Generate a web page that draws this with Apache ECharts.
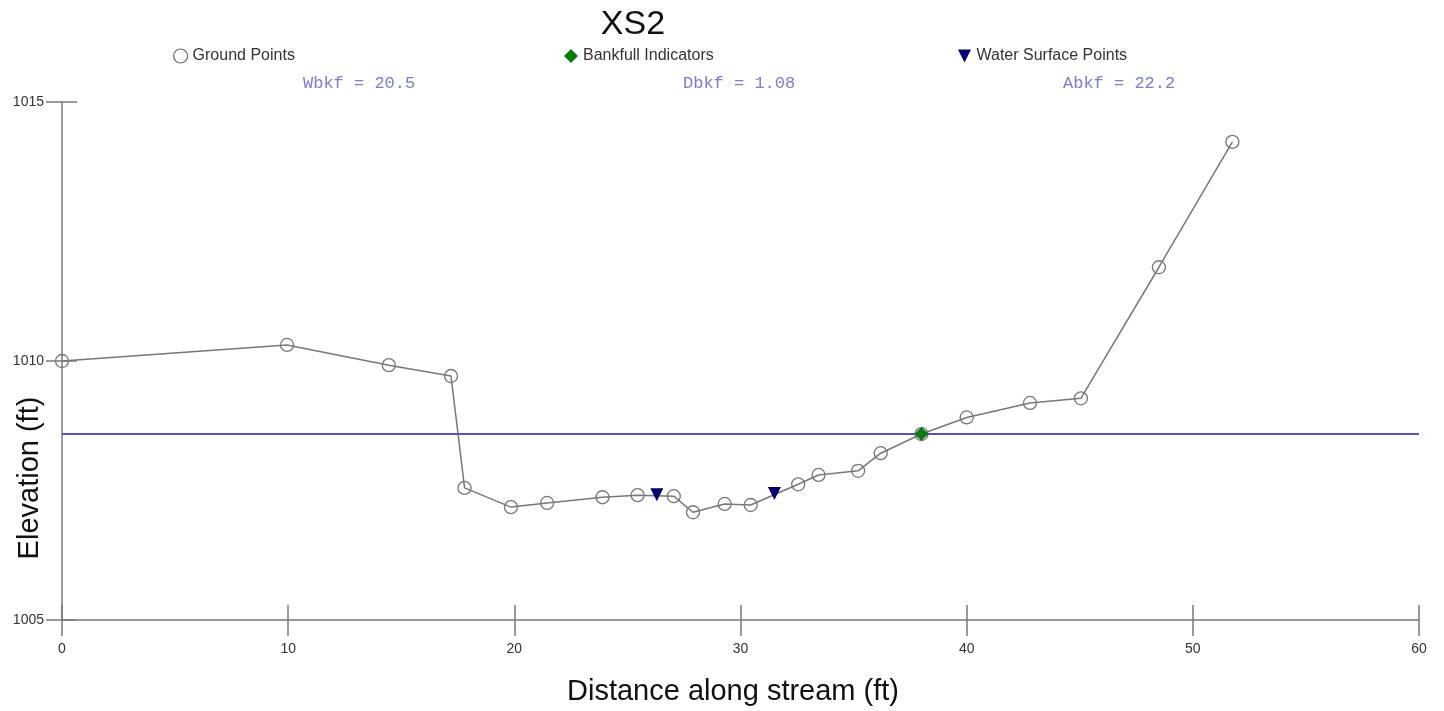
<!DOCTYPE html>
<html>
<head>
<meta charset="utf-8">
<style>
  html, body { margin: 0; padding: 0; background: #fff; }
  #chart { width: 1444px; height: 711px; }
</style>
<script src="https://cdn.jsdelivr.net/npm/echarts@6/dist/echarts.min.js"></script>
</head>
<body>
<div id="chart"></div>
<script>
// Ground survey points: distance (ft), elevation (ft)
const groundX = [0, 9.95, 14.45, 17.2, 17.8, 19.85, 21.45, 23.9, 25.45, 27.05, 27.9, 29.3, 30.45, 32.55, 33.45, 35.2, 36.2, 38.0, 40.0, 42.8, 45.05, 48.5, 51.75];
const groundY = [1010.0, 1010.31, 1009.92, 1009.71, 1007.55, 1007.18, 1007.26, 1007.37, 1007.41, 1007.39, 1007.08, 1007.24, 1007.22, 1007.62, 1007.8, 1007.88, 1008.22, 1008.59, 1008.91, 1009.19, 1009.28, 1011.81, 1014.23];
// Bankfull indicator
const bankfullX = [38.0];
const bankfullY = [1008.59];
// Water surface points
const waterX = [26.3, 31.5];
const waterY = [1007.42, 1007.44];
// Bankfull elevation line
const bankfullElevation = 1008.59;
// Axis ticks
const xTicks = [0, 10, 20, 30, 40, 50, 60];
const yTicks = [1005, 1010, 1015];
// Summary text
const statLabels = ['Wbkf = 20.5', 'Dbkf = 1.08', 'Abkf = 22.2'];
const titleText = 'XS2';

const zip = (a, b) => a.map((v, i) => [v, b[i]]);

const chart = echarts.init(document.getElementById('chart'), null, { renderer: 'canvas' });
const axisColor = '#7a7a7a';
const sans = '"Liberation Sans", Arial, sans-serif';
const labelFont = { color: '#333', fontFamily: sans, fontSize: 14 };

const xBase = { type: 'value', min: xTicks[0], max: xTicks[xTicks.length - 1], interval: 10, splitLine: { show: false } };
const yBase = { type: 'value', min: yTicks[0], max: yTicks[yTicks.length - 1], interval: 5, splitLine: { show: false } };

const legendText = { fontFamily: sans, fontSize: 16, color: '#333' };

const option = {
  backgroundColor: '#fff',
  animation: false,
  legend: [
    { left: 168, top: 43, itemWidth: 14, itemHeight: 14,
      textStyle: legendText,
      data: [{ name: 'Ground Points', icon: 'circle', itemStyle: { color: '#fff', borderColor: '#666', borderWidth: 1.2 } }] },
    { left: 559, top: 43, itemWidth: 14, itemHeight: 14,
      textStyle: legendText,
      data: [{ name: 'Bankfull Indicators', icon: 'diamond' }] },
    { left: 953, top: 43, itemWidth: 14, itemHeight: 13,
      textStyle: legendText,
      data: [{ name: 'Water Surface Points', icon: 'path://M0,0 L10,0 L5,10 Z' }] }
  ],
  grid: { left: 62, right: 25, top: 102, bottom: 91, containLabel: false },
  xAxis: [
    Object.assign({}, xBase, {
      axisLine: { show: true, onZero: false, lineStyle: { color: axisColor, width: 1.5 } },
      axisTick: { show: true, inside: false, length: 16, lineStyle: { color: axisColor, width: 1.5 } },
      axisLabel: Object.assign({ margin: 22, showMinLabel: true, showMaxLabel: true }, labelFont)
    }),
    Object.assign({}, xBase, {
      position: 'bottom',
      axisLine: { show: false },
      axisTick: { show: true, inside: true, length: 15, lineStyle: { color: axisColor, width: 1.5 } },
      axisLabel: { show: false }
    })
  ],
  yAxis: [
    Object.assign({}, yBase, {
      axisLine: { show: true, onZero: false, lineStyle: { color: axisColor, width: 1.5 } },
      axisTick: { show: true, inside: false, length: 16, lineStyle: { color: axisColor, width: 1.5 } },
      axisLabel: Object.assign({ margin: 18, formatter: v => String(v) }, labelFont)
    }),
    Object.assign({}, yBase, {
      position: 'left',
      axisLine: { show: false },
      axisTick: { show: true, inside: true, length: 15, lineStyle: { color: axisColor, width: 1.5 } },
      axisLabel: { show: false }
    })
  ],
  series: [
    {
      name: 'Ground Points', type: 'line', data: zip(groundX, groundY),
      symbol: 'circle', symbolSize: 13, showAllSymbol: true,
      lineStyle: { color: '#777', width: 1.5 },
      itemStyle: { color: 'transparent', borderColor: '#777', borderWidth: 1.3 },
      emphasis: { disabled: true },
      z: 3,
      markLine: {
        silent: true, symbol: 'none', label: { show: false },
        lineStyle: { color: '#5454c0', width: 2, type: 'solid' },
        data: [{ yAxis: bankfullElevation }]
      }
    },
    {
      name: 'Bankfull Indicators', type: 'scatter', data: zip(bankfullX, bankfullY),
      symbol: 'diamond', symbolSize: 14,
      itemStyle: { color: '#0a7a10', opacity: 1 }, emphasis: { disabled: true }, z: 5
    },
    {
      name: 'Water Surface Points', type: 'scatter', data: zip(waterX, waterY),
      symbol: 'triangle', symbolRotate: 180, symbolSize: 13,
      itemStyle: { color: '#00006e', opacity: 1 }, emphasis: { disabled: true }, z: 5
    }
  ],
  graphic: [
    { type: 'text', x: 633, y: 25, style: { text: titleText, fill: '#111', font: '34px ' + sans, align: 'center', verticalAlign: 'middle' } },
    { type: 'text', left: 303, top: 75, style: { text: statLabels[0], fill: '#7b7bd0', font: '17px "Liberation Mono", "DejaVu Sans Mono", monospace' } },
    { type: 'text', left: 683, top: 75, style: { text: statLabels[1], fill: '#7b7bd0', font: '17px "Liberation Mono", "DejaVu Sans Mono", monospace' } },
    { type: 'text', left: 1063, top: 75, style: { text: statLabels[2], fill: '#7b7bd0', font: '17px "Liberation Mono", "DejaVu Sans Mono", monospace' } },
    { type: 'text', x: 30, y: 478, rotation: Math.PI / 2, style: { text: 'Elevation (ft)', fill: '#111', font: '29px ' + sans, align: 'center', verticalAlign: 'middle' } },
    { type: 'text', x: 733, y: 692, style: { text: 'Distance along stream (ft)', fill: '#111', font: '29px ' + sans, align: 'center', verticalAlign: 'middle' } }
  ]
};
chart.setOption(option);
</script>
</body>
</html>
